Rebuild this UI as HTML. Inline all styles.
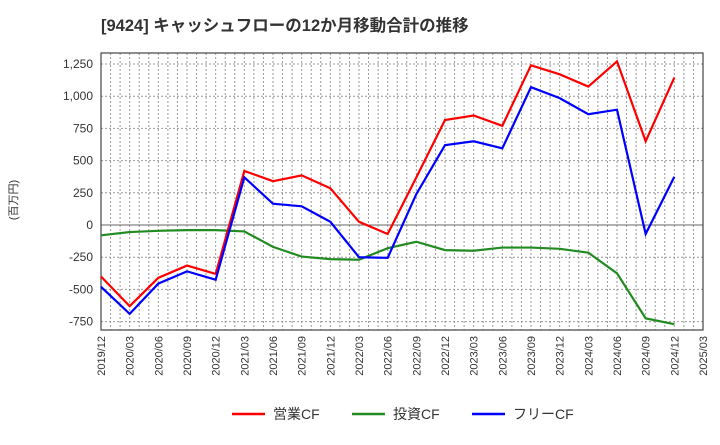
<!DOCTYPE html>
<html><head><meta charset="utf-8"><style>
body{margin:0;background:#fff;font-family:"Liberation Sans","Noto Sans CJK JP",sans-serif}
</style></head><body>
<svg width="720" height="440" xmlns="http://www.w3.org/2000/svg" id="chart">
<text x="101" y="31" font-size="16.5" font-weight="bold" fill="#333" font-family="Liberation Sans, Noto Sans CJK JP, sans-serif">[9424]  キャッシュフローの12か月移動合計の推移</text>
<text transform="translate(17,200) rotate(-90)" text-anchor="middle" font-size="11" fill="#333" font-family="Liberation Sans, Noto Sans CJK JP, sans-serif">(百万円)</text>
<g id="grid"></g><g id="axes"></g><g id="series"></g>
<g font-size="14" fill="#333" font-family="Liberation Sans, Noto Sans CJK JP, sans-serif">
<line x1="232" y1="414" x2="265" y2="414" stroke="#f00" stroke-width="2.5"/><text x="273" y="419">営業CF</text>
<line x1="352" y1="414" x2="385" y2="414" stroke="#228b22" stroke-width="2.5"/><text x="393" y="419">投資CF</text>
<line x1="472" y1="414" x2="505" y2="414" stroke="#00f" stroke-width="2.5"/><text x="513" y="419">フリーCF</text>
</g>
</svg>
<script>
const categories=["2019/12","2020/03","2020/06","2020/09","2020/12","2021/03","2021/06","2021/09","2021/12","2022/03","2022/06","2022/09","2022/12","2023/03","2023/06","2023/09","2023/12","2024/03","2024/06","2024/09","2024/12","2025/03"];
const operatingCF=[-400,-630,-410,-315,-380,420,340,385,285,25,-70,370,815,850,770,1240,1170,1075,1270,650,1145];
const investingCF=[-80,-55,-45,-40,-40,-50,-170,-245,-265,-270,-180,-130,-195,-200,-175,-175,-185,-215,-375,-725,-770];
const freeCF=[-480,-690,-455,-360,-425,370,165,145,25,-250,-255,240,620,650,595,1070,985,860,895,-70,375];
const yTicks=[1250,1000,750,500,250,0,-250,-500,-750];
const L=101,R=703,T=53,B=330;
const x=i=>L+i*(R-L)/(categories.length-1);
const y=v=>225-v*(161/1250);
const NS="http://www.w3.org/2000/svg";
function mk(p,t,a){const e=document.createElementNS(NS,t);for(const k in a)e.setAttribute(k,a[k]);p.appendChild(e);return e;}
const g=document.getElementById('grid'),ax=document.getElementById('axes'),s=document.getElementById('series');
for(let m=1;m<(categories.length-1)*3;m++){const xx=L+m*(R-L)/((categories.length-1)*3);
const l=mk(g,'line',{x1:xx,x2:xx,y1:T,y2:B,stroke:'#999','stroke-dasharray':'2,2','stroke-width':1});

}
yTicks.forEach(v=>{const l=mk(g,'line',{x1:L,x2:R,y1:y(v),y2:y(v),stroke:v===0?'#666':'#999','stroke-dasharray':v===0?'':'2,2','stroke-width':1});


const t=mk(ax,'text',{x:L-8,y:y(v)+4,'text-anchor':'end','font-size':12,fill:'#333'});t.textContent=v.toLocaleString('en-US');

});
categories.forEach((c,i)=>{const t=mk(ax,'text',{transform:`translate(${x(i)+4},${B+6}) rotate(-90)`,'text-anchor':'end','font-size':11,fill:'#333'});t.textContent=c;

});
const fr=mk(ax,'rect',{x:L,y:T,width:R-L,height:B-T,fill:'none',stroke:'#444','stroke-width':1.2});


[[investingCF,'#228b22','investing-cf-line'],[operatingCF,'#f00','operating-cf-line'],[freeCF,'#00f','free-cf-line']].forEach(([d,c,n])=>{
const p=mk(s,'polyline',{points:d.map((v,i)=>x(i)+','+y(v)).join(' '),fill:'none',stroke:c,'stroke-width':2.2});

});
</script>
</body></html>
